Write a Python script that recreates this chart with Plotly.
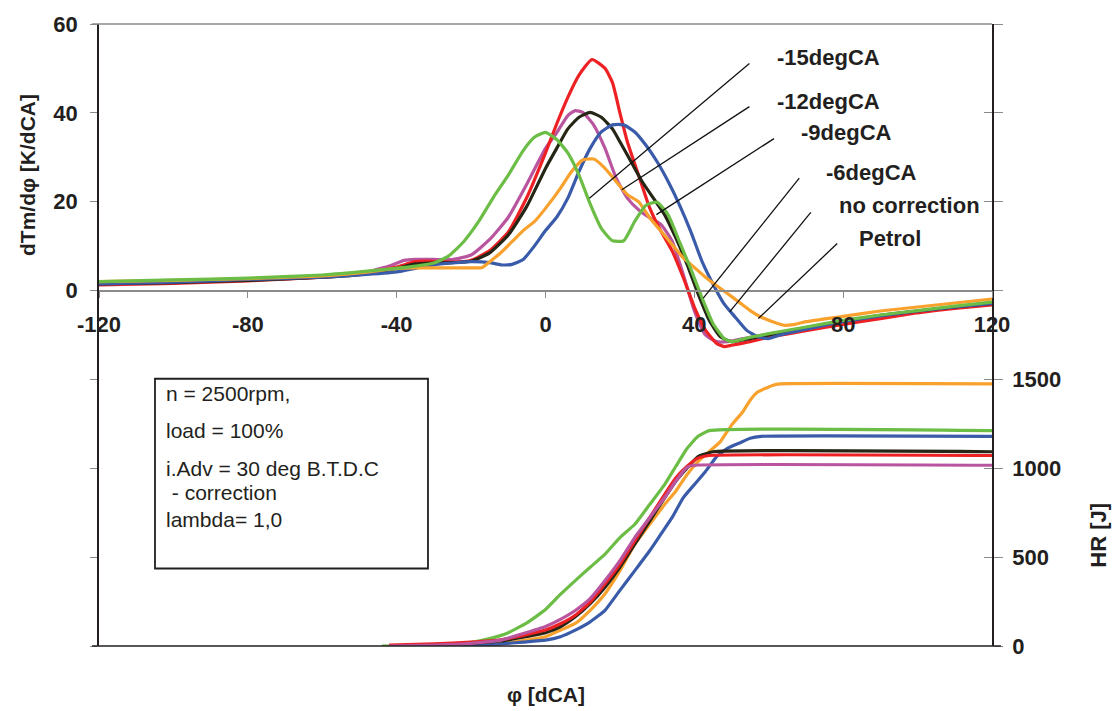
import plotly.graph_objects as go

# ---------------- data: dTm/dphi [K/dCA] (left axis) ----------------
x_m15 = [-120, -100, -80, -60, -50, -40, -35, -30, -26, -22, -18, -14, -10, -6, -3, 0, 3, 6, 9, 12, 15, 18, 21,
         24, 27, 30, 33, 36, 39, 42, 45, 48, 50, 55, 60, 70, 80, 90, 100, 110, 120]
y_m15 = [2, 2.4, 2.8, 3.5, 4.2, 5, 5.5, 6.2, 7.8, 11, 15.5, 21, 26, 31.5, 34.5, 35.6, 34, 31, 26, 19.5, 14, 11.2,
         11.2, 15.6, 19.2, 19.9, 17, 11, 5, -1.5, -7.4, -10.8, -11.5, -10.5, -9.7, -8.2, -6.7, -5.5, -4.5, -3.5, -2.6]

x_m12 = [-120, -100, -80, -60, -50, -42, -38, -35, -30, -25, -20, -15, -10, -5, 0, 3, 6, 8, 10, 13, 16, 19, 22,
         25, 28, 31, 34, 37, 40, 43, 46, 49, 55, 60, 70, 80, 90, 100, 110, 120]
y_m12 = [1.5, 1.9, 2.4, 3, 3.8, 5.5, 6.8, 7, 7, 7, 8, 11.5, 16.5, 24, 32, 35.5, 39.4, 40.5, 40.1, 37.2, 32, 25.3,
         20.8, 18.2, 16.4, 14.9, 11.2, 3.7, -4.5, -10, -11.5, -11.5, -10.5, -9.8, -8.4, -7, -5.7, -4.7, -3.8, -3]

x_m9 = [-120, -100, -80, -60, -50, -40, -35, -30, -25, -20, -15, -10, -5, 0, 3, 6, 9, 12.5, 16, 18, 20, 22, 25,
        28, 31, 34, 37, 40, 43, 46, 48, 50, 55, 60, 70, 80, 90, 100, 110, 120]
y_m9 = [1.3, 1.6, 2.2, 3, 3.8, 5.3, 6.5, 6.6, 6.4, 6.8, 9, 13.2, 21, 31, 37.5, 43.5, 48.5, 52, 50, 46.8, 40, 33.5,
        26, 18.6, 13.4, 9, 3, -3.7, -8.9, -11.9, -12.6, -12.3, -11.5, -10.5, -9, -7.6, -6.3, -5, -4, -3.2]

x_m6 = [-120, -100, -80, -60, -50, -40, -35, -30, -25, -20, -15, -10, -5, 0, 3, 6, 9, 12, 15, 18, 20, 23, 26,
        29, 32, 35, 38, 41, 44, 47, 50, 55, 60, 70, 80, 90, 100, 110, 120]
y_m6 = [1.5, 1.8, 2.3, 3, 3.6, 5, 6, 6.2, 6.3, 6.6, 8.5, 12.5, 19, 27.5, 32, 36.4, 39, 40.1, 39, 36.4, 33.5, 29,
        24.5, 20.8, 17.1, 11.9, 6, -0.7, -6.7, -10.4, -11.5, -10.8, -10, -8.4, -6.9, -5.6, -4.6, -3.7, -2.9]

x_nc = [-120, -100, -80, -60, -50, -40, -35, -30, -25, -20, -15, -12, -9, -6, -3, 0, 3, 6, 9, 12, 15, 18, 21,
        24, 27, 30, 33, 36, 39, 42, 45, 48, 51, 54, 57, 60, 63, 70, 80, 90, 100, 110, 120]
y_nc = [1.5, 1.9, 2.5, 3, 3.5, 4.2, 5, 5.8, 6.2, 6.5, 6.3, 5.8, 5.9, 7, 10, 13.5, 16.5, 20.8, 26.8, 32, 35.7,
        37.3, 37.3, 35.7, 32.7, 29, 24.5, 19.3, 13.4, 6.7, 1.5, -3, -6, -8.9, -10.4, -10.8, -10, -8.7, -7, -5.7,
        -4.6, -3.7, -2.9]

x_pet = [-120, -100, -80, -60, -50, -45, -40, -35, -30, -25, -20, -17, -15, -12, -9, -6, -3, 0, 4, 7, 10, 13,
         16, 19, 22, 25, 28, 31, 34, 37, 40, 43, 46, 49, 52, 55, 58, 61, 64, 67, 70, 80, 90, 100, 110, 120]
y_pet = [2, 2.3, 2.7, 3.3, 4, 4.5, 5, 5.1, 5.1, 5.1, 5.1, 5.2, 6.5, 8.5, 11, 13.5, 15.5, 18.5, 23, 26.8, 29.4,
         29.6, 27.5, 24.5, 21.6, 20, 16.4, 13.4, 10.4, 7.4, 5.2, 3, 1.1, -0.7, -2.6, -4.5, -6, -7, -7.8, -7.6,
         -7, -5.8, -4.6, -3.7, -2.8, -1.9]

# ---------------- data: HR [J] (right axis) ----------------
hx_m15 = [-44, -35, -25, -20, -15, -10, -5, 0, 4, 8, 12, 16, 20, 24, 28, 32, 35, 38, 41, 44, 120]
hy_m15 = [0, 2, 8, 20, 42, 75, 130, 205, 290, 368, 443, 517, 610, 685, 796, 908, 1010, 1110, 1180, 1212, 1212]

hx_m12 = [-42, -30, -20, -12, -6, 0, 4, 8, 12, 16, 20, 24, 28, 32, 35, 38, 40, 120]
hy_m12 = [0, 5, 15, 33, 70, 110, 150, 200, 266, 368, 480, 610, 722, 834, 927, 1005, 1017, 1017]

hx_m9 = [-42, -30, -20, -12, -6, 0, 4, 8, 12, 16, 20, 24, 28, 32, 35, 38, 41, 44, 120]
hy_m9 = [5, 12, 22, 35, 60, 90, 125, 173, 247, 350, 461, 592, 722, 852, 945, 1010, 1057, 1072, 1072]

hx_m6 = [-42, -30, -20, -12, -6, 0, 4, 8, 12, 16, 20, 24, 28, 32, 35, 38, 41, 45, 120]
hy_m6 = [0, 8, 15, 28, 50, 75, 108, 164, 238, 331, 443, 573, 703, 834, 927, 1001, 1066, 1093, 1093]

hx_nc = [-42, -20, -12, -6, 0, 4, 8, 12, 16, 20, 24, 28, 31, 34, 37, 40, 43, 46, 49, 52, 55, 58, 120]
hy_nc = [0, 5, 12, 22, 33, 52, 89, 136, 201, 313, 424, 536, 629, 722, 834, 908, 982, 1066, 1113, 1141, 1169,
         1180, 1180]

hx_pet = [-42, -20, -12, -6, 0, 4, 8, 12, 16, 20, 24, 28, 32, 35, 38, 41, 44, 47, 50, 53, 55, 57, 61, 63, 120]
hy_pet = [0, 2, 12, 30, 52, 89, 127, 201, 294, 424, 573, 685, 796, 871, 964, 1038, 1094, 1150, 1243, 1317, 1383,
          1429, 1466, 1475, 1475]

# ---------------- labels ----------------
x_ticks = [-120, -80, -40, 0, 40, 80, 120]
x_ticklabels = ["-120", "-80", "-40", "0", "40", "80", "120"]
y_ticks = [-80, -60, -40, -20, 0, 20, 40, 60]
y_ticklabels = ["", "", "", "", "0", "20", "40", "60"]
y2_ticks = [0, 500, 1000, 1500, 2000, 2500, 3000, 3500]
y2_ticklabels = ["0", "500", "1000", "1500", "", "", "", ""]

series_names = ["-15degCA", "-12degCA", "-9degCA", "-6degCA", "no correction", "Petrol"]
label_x = [76, 76, 81, 87.6, 97.8, 92.7]
label_y = [52.4, 42.6, 35.5, 26.5, 19.1, 11.7]
leader_x0 = [54.8, 54.8, 61.4, 68.2, 71.3, 78.4]
leader_y0 = [51.1, 41.4, 34.2, 25.3, 17.6, 10.6]
leader_x1 = [11.8, 20.5, 29.8, 42.4, 49.5, 57.2]
leader_y1 = [20.8, 22.7, 17.1, -1.7, -4.8, -6.3]

box_lines = ["n = 2500rpm,", "load = 100%", "i.Adv = 30 deg B.T.D.C", "&nbsp;- correction", "lambda= 1,0"]
box_line_y = [0.4058, 0.3466, 0.2859, 0.246, 0.2029]

colors = {"-15degCA": "#6CBD45", "-12degCA": "#B9559F", "-9degCA": "#ED2024",
          "-6degCA": "#262616", "no correction": "#3A5BAA", "Petrol": "#F9A12D"}

upper = {"-15degCA": (x_m15, y_m15), "-12degCA": (x_m12, y_m12), "-9degCA": (x_m9, y_m9),
         "-6degCA": (x_m6, y_m6), "no correction": (x_nc, y_nc), "Petrol": (x_pet, y_pet)}
lower = {"-15degCA": (hx_m15, hy_m15), "-12degCA": (hx_m12, hy_m12), "-9degCA": (hx_m9, hy_m9),
         "-6degCA": (hx_m6, hy_m6), "no correction": (hx_nc, hy_nc), "Petrol": (hx_pet, hy_pet)}

FONT = "Liberation Sans, Arial, sans-serif"
TXT = "#231F20"

# plot-area geometry (pixels)
L, R, T, B = 99, 126, 20, 65
W, H = 1118, 711
pw, ph = W - L - R, H - T - B


def px_to_paper(px, py):
    return (px - L) / pw, (H - B - py) / ph


fig = go.Figure()

upper_order = ["-12degCA", "-9degCA", "-6degCA", "no correction", "Petrol", "-15degCA"]
for name in upper_order:
    xs, ys = upper[name]
    fig.add_trace(go.Scatter(x=xs, y=ys, mode="lines", name=name, showlegend=False,
                             line=dict(color=colors[name], width=3.2, shape="spline", smoothing=0.5),
                             yaxis="y", hoverinfo="skip"))

lower_order = ["Petrol", "no correction", "-15degCA", "-6degCA", "-9degCA", "-12degCA"]
for name in lower_order:
    xs, ys = lower[name]
    fig.add_trace(go.Scatter(x=xs, y=ys, mode="lines", name=name, showlegend=False,
                             line=dict(color=colors[name], width=3.2, shape="spline", smoothing=0.4),
                             yaxis="y2", hoverinfo="skip"))

# dummy trace for inner tick marks on the right axis
fig.add_trace(go.Scatter(x=[0], y=[0], mode="lines", yaxis="y3", opacity=0, showlegend=False,
                         hoverinfo="skip"))

# leader lines and series labels
for i in range(len(series_names)):
    fig.add_shape(type="line", xref="x", yref="y", x0=leader_x0[i], y0=leader_y0[i],
                  x1=leader_x1[i], y1=leader_y1[i], line=dict(color="#111111", width=1.3))
    fig.add_annotation(x=label_x[i], y=label_y[i], xref="x", yref="y", text=series_names[i],
                       showarrow=False, xanchor="center", yanchor="middle",
                       font=dict(family=FONT, size=22, color=TXT, weight="bold"))

# frame lines
fig.add_shape(type="line", xref="paper", yref="paper", x0=-0.0078, x1=1.0, y0=1, y1=1,
              line=dict(color="#8a8a8a", width=1.5))
fig.add_shape(type="line", xref="paper", yref="paper", x0=-0.0078, x1=1.01, y0=0, y1=0,
              line=dict(color="#231F20", width=1.5))

# info box
fig.add_shape(type="rect", xref="paper", yref="paper", x0=0.0627, x1=0.3684, y0=0.1246, y1=0.4297,
              line=dict(color="#231F20", width=1.8), fillcolor="rgba(0,0,0,0)")
for t, yy in zip(box_lines, box_line_y):
    fig.add_annotation(x=0.0723, y=yy, xref="paper", yref="paper", text=t,
                       showarrow=False, xanchor="left", yanchor="middle",
                       font=dict(family=FONT, size=21, color=TXT))

# axis titles as annotations
ax, ay = px_to_paper(27, 172)
fig.add_annotation(x=ax, y=ay, xref="paper", yref="paper", text="dTm/dφ [K/dCA]", showarrow=False,
                   textangle=-90, xanchor="center", yanchor="middle",
                   font=dict(family=FONT, size=21, color=TXT, weight="bold"))
ax, ay = px_to_paper(1099, 535)
fig.add_annotation(x=ax, y=ay, xref="paper", yref="paper", text="HR [J]", showarrow=False,
                   textangle=-90, xanchor="center", yanchor="middle",
                   font=dict(family=FONT, size=22, color=TXT, weight="bold"))
ax, ay = px_to_paper(546, 695)
fig.add_annotation(x=ax, y=ay, xref="paper", yref="paper", text="φ [dCA]", showarrow=False,
                   xanchor="center", yanchor="middle",
                   font=dict(family=FONT, size=21, color=TXT, weight="bold"))

fig.update_layout(
    width=W, height=H,
    margin=dict(l=L, r=R, t=T, b=B, pad=0),
    paper_bgcolor="white", plot_bgcolor="white",
    showlegend=False,
    xaxis=dict(range=[-120, 120], tickvals=x_ticks, ticktext=x_ticklabels, ticks="outside", ticklen=7,
               tickwidth=1.3, tickcolor="#8a8a8a", showline=True, linecolor="#8a8a8a", linewidth=1.5,
               showgrid=False, zeroline=False, anchor="free", position=80 / 140,
               tickfont=dict(family=FONT, size=22, color=TXT, weight="bold"), ticklabelstandoff=7),
    yaxis=dict(range=[-80, 60], tickvals=y_ticks, ticktext=y_ticklabels, ticks="outside", ticklen=7,
               tickwidth=1.3, tickcolor="#8a8a8a", showline=True, linecolor="#231F20", linewidth=1.8,
               showgrid=False, zeroline=False,
               tickfont=dict(family=FONT, size=22, color=TXT, weight="bold"), ticklabelstandoff=8),
    yaxis2=dict(range=[0, 3500], tickvals=y2_ticks, ticktext=y2_ticklabels, overlaying="y", side="right",
                ticks="outside", ticklen=9, tickwidth=1.3, tickcolor="#8a8a8a", showline=True,
                linecolor="#231F20", linewidth=1.8, showgrid=False, zeroline=False, anchor="x",
                tickfont=dict(family=FONT, size=22, color=TXT, weight="bold"), ticklabelstandoff=5),
    yaxis3=dict(range=[0, 3500], tickvals=y2_ticks, overlaying="y", side="right", ticks="inside",
                ticklen=8, tickwidth=1.3, tickcolor="#8a8a8a", showline=False, showticklabels=False,
                showgrid=False, zeroline=False, anchor="free", position=1),
)

fig.write_html("out.html")
